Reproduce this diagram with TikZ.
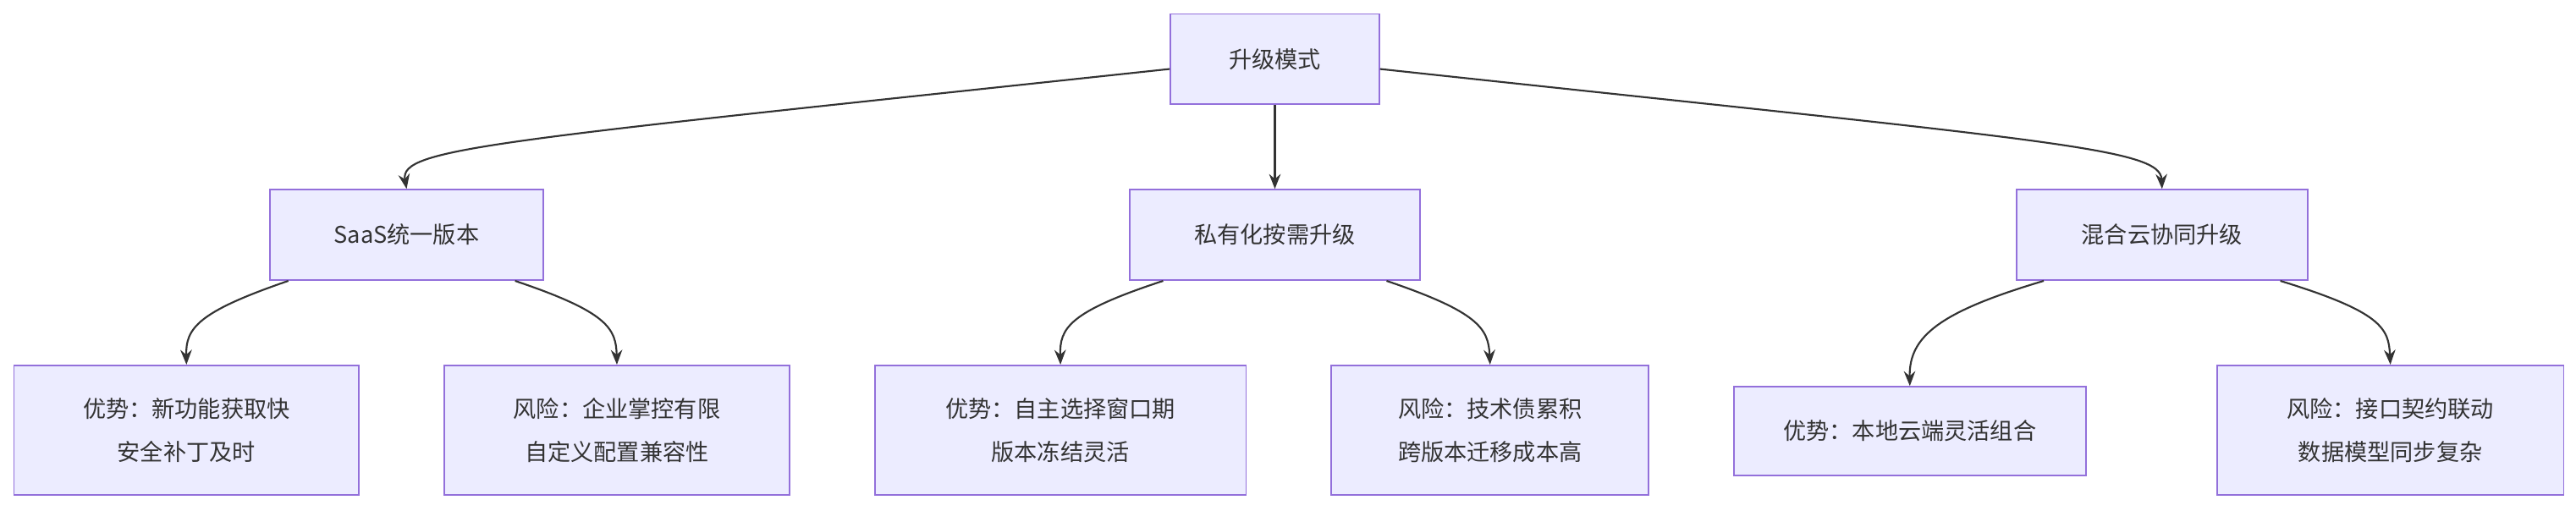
\documentclass[tikz,border=0pt]{standalone}
\usepackage{fontspec}
\setmainfont{Noto Sans CJK SC}
\usetikzlibrary{arrows.meta}
\definecolor{nfill}{HTML}{ECECFF}
\definecolor{nline}{HTML}{9370DB}
\definecolor{eline}{HTML}{333333}
\begin{document}
\begin{tikzpicture}[x=1pt,y=-1pt,
  box/.style={draw=nline,fill=nfill,line width=1pt,align=center,font=\fontsize{14}{26}\selectfont,text=eline,inner sep=0pt,anchor=north west},
  conn/.style={draw=eline,line width=1.1pt,-{Stealth[length=9pt,width=7pt]}}]
\useasboundingbox (0,0) rectangle (1568,311);
\node[box,minimum width=127pt,minimum height=55pt] (root) at (712,8) {升级模式};
\node[box,minimum width=166pt,minimum height=55pt] (saas) at (164,115) {SaaS统一版本};
\node[box,minimum width=177pt,minimum height=55pt] (priv) at (687,115) {私有化按需升级};
\node[box,minimum width=177pt,minimum height=55pt] (hyb) at (1227,115) {混合云协同升级};
\node[box,minimum width=210pt,minimum height=79pt] (l1) at (8,222) {优势：新功能获取快\\安全补丁及时};
\node[box,minimum width=210pt,minimum height=79pt] (l2) at (270,222) {风险：企业掌控有限\\自定义配置兼容性};
\node[box,minimum width=226pt,minimum height=79pt] (l3) at (532,222) {优势：自主选择窗口期\\版本冻结灵活};
\node[box,minimum width=193pt,minimum height=79pt] (l4) at (810,222) {风险：技术债累积\\跨版本迁移成本高};
\node[box,minimum width=214pt,minimum height=54pt] (l5) at (1055,235) {优势：本地云端灵活组合};
\node[box,minimum width=211pt,minimum height=79pt] (l6) at (1349,222) {风险：接口契约联动\\数据模型同步复杂};
\draw[conn] ([yshift=-6pt]root.west) .. controls (300,86) and (243,90) .. (saas.north);
\draw[conn] ([yshift=-6pt]root.east) .. controls (1250,86) and (1315,90) .. (hyb.north);
\draw[conn] (root.south) -- (priv.north);
\draw[conn] ([xshift=-72pt]saas.south) .. controls (120,190) and (113,200) .. (l1.north);
\draw[conn] ([xshift=66pt]saas.south) .. controls (370,190) and (375,200) .. (l2.north);
\draw[conn] ([xshift=-68pt]priv.south) .. controls (650,190) and (645,200) .. (l3.north);
\draw[conn] ([xshift=68pt]priv.south) .. controls (900,190) and (906,200) .. (l4.north);
\draw[conn] ([xshift=-72pt]hyb.south) .. controls (1180,190) and (1162,205) .. (l5.north);
\draw[conn] ([xshift=72pt]hyb.south) .. controls (1450,190) and (1454,200) .. (l6.north);
\end{tikzpicture}
\end{document}
